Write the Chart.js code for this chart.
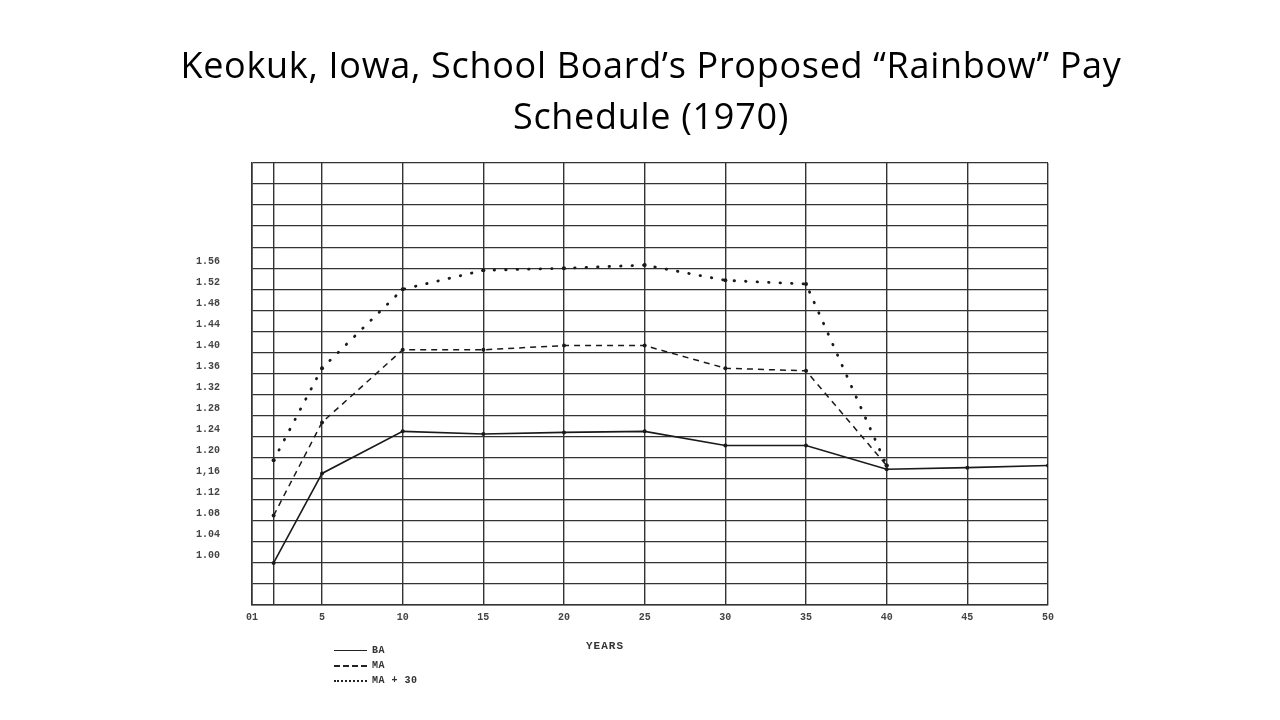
<!DOCTYPE html>
<html><head><meta charset="utf-8">
<script src="https://cdn.jsdelivr.net/npm/chart.js@4.4.1/dist/chart.umd.min.js"></script>
<style>
html,body{margin:0;padding:0;background:#fff;}
#wrap{position:relative;width:1280px;height:720px;overflow:hidden;background:#fff;}
#title{position:absolute;left:11px;top:39px;width:1280px;text-align:center;font-family:'Open Sans',Lato,sans-serif;font-size:36px;letter-spacing:0.7px;line-height:51px;color:#000;z-index:2;}
#c{position:absolute;left:0;top:0;}
#legend{position:absolute;left:334px;top:643px;font-family:'Liberation Mono',monospace;font-size:10px;font-weight:bold;letter-spacing:0.5px;color:#333;z-index:2;}
.item{display:flex;align-items:center;height:15px;}
.sample{width:33px;height:0;margin-right:5px;}
#xtitle{position:absolute;left:586px;top:640px;font-family:'Liberation Mono',monospace;font-size:11px;font-weight:bold;letter-spacing:1px;color:#333;z-index:2;}
</style></head>
<body>
<div id="wrap">
<div id="title">Keokuk, Iowa, School Board’s Proposed “Rainbow” Pay<br>Schedule (1970)</div>
<canvas id="c" width="1280" height="720"></canvas>
<div id="xtitle">YEARS</div>
<div id="legend"></div>
</div>
<script>
const years = [2, 5, 10, 15, 20, 25, 30, 35, 40, 45, 50];
const baValues = [1.00, 1.17, 1.25, 1.245, 1.248, 1.25, 1.223, 1.223, 1.178, 1.181, 1.185];
const maValues = [1.09, 1.267, 1.405, 1.405, 1.413, 1.413, 1.37, 1.365, 1.185, null, null];
const ma30Values = [1.195, 1.37, 1.52, 1.556, 1.56, 1.566, 1.537, 1.53, 1.185, null, null];
const seriesLabels = ['BA', 'MA', 'MA + 30'];
const xGridValues = [0.66, 2, 5, 10, 15, 20, 25, 30, 35, 40, 45, 50];
const xTickValues = [0.66, 5, 10, 15, 20, 25, 30, 35, 40, 45, 50];
const xTickLabels = ['01', '5', '10', '15', '20', '25', '30', '35', '40', '45', '50'];
const yGridValues = [0.92, 0.96, 1.00, 1.04, 1.08, 1.12, 1.16, 1.20, 1.24, 1.28, 1.32, 1.36, 1.40, 1.44, 1.48, 1.52, 1.56, 1.60, 1.64, 1.68, 1.72, 1.76];
const yTickValues = [1.00, 1.04, 1.08, 1.12, 1.16, 1.20, 1.24, 1.28, 1.32, 1.36, 1.40, 1.44, 1.48, 1.52, 1.56];
const yTickLabels = ['1.00', '1.04', '1.08', '1.12', '1,16', '1.20', '1.24', '1.28', '1.32', '1.36', '1.40', '1.44', '1.48', '1.52', '1.56'];

const toPts = arr => years.map((x, i) => ({x: x, y: arr[i]}));
const dashes = [[], [6, 5], [0.5, 11]];
const widths = [1.6, 1.5, 2.8];
const caps = ['butt', 'butt', 'round'];
const seriesData = [baValues, maValues, ma30Values];

const datasets = seriesLabels.map((lab, i) => ({
  label: lab,
  data: toPts(seriesData[i]),
  borderColor: '#1a1a1a',
  backgroundColor: '#1a1a1a',
  borderWidth: widths[i],
  borderDash: dashes[i],
  borderCapStyle: caps[i],
  pointRadius: 2,
  pointBorderWidth: 0,
  pointBackgroundColor: '#1a1a1a',
  tension: 0,
  spanGaps: false
}));

const findLabel = (vals, labs, v) => {
  for (let i = 0; i < vals.length; i++) if (Math.abs(vals[i] - v) < 1e-6) return labs[i];
  return '';
};

const chart = new Chart(document.getElementById('c'), {
  type: 'line',
  data: {datasets: datasets},
  options: {
    responsive: false,
    animation: false,
    layout: {padding: {left: 0, right: 232, top: 163, bottom: 0}},
    plugins: {legend: {display: false}, tooltip: {enabled: false}},
    scales: {
      x: {
        type: 'linear', min: 0.66, max: 50,
        afterBuildTicks: s => { s.ticks = xGridValues.map(v => ({value: v})); },
        afterFit: s => { s.height = 115; },
        grid: {color: '#333', lineWidth: 1.4, drawTicks: false},
        border: {display: true, color: '#333', width: 1.6},
        ticks: {
          autoSkip: false, maxRotation: 0, padding: 6,
          color: '#444', font: {family: 'Liberation Mono', size: 10, weight: 'bold'},
          callback: v => findLabel(xTickValues, xTickLabels, v)
        }
      },
      y: {
        type: 'linear', min: 0.92, max: 1.76,
        afterBuildTicks: s => { s.ticks = yGridValues.map(v => ({value: v})); },
        afterFit: s => { s.width = 252; },
        grid: {color: '#333', lineWidth: 1.3, drawTicks: false},
        border: {display: true, color: '#333', width: 1.6},
        ticks: {
          autoSkip: false, padding: 32, labelOffset: -7,
          color: '#444', font: {family: 'Liberation Mono', size: 10, weight: 'bold'},
          callback: v => findLabel(yTickValues, yTickLabels, v)
        }
      }
    }
  }
});

const lg = document.getElementById('legend');
const borderStyles = ['solid', 'dashed', 'dotted'];
chart.data.datasets.forEach((ds, i) => {
  const it = document.createElement('div'); it.className = 'item';
  const sm = document.createElement('span'); sm.className = 'sample';
  sm.style.borderTop = (i === 0 ? '1.5px ' : '2px ') + borderStyles[i] + ' #222';
  const tx = document.createElement('span'); tx.textContent = ds.label;
  it.appendChild(sm); it.appendChild(tx); lg.appendChild(it);
});
</script>
</body></html>
